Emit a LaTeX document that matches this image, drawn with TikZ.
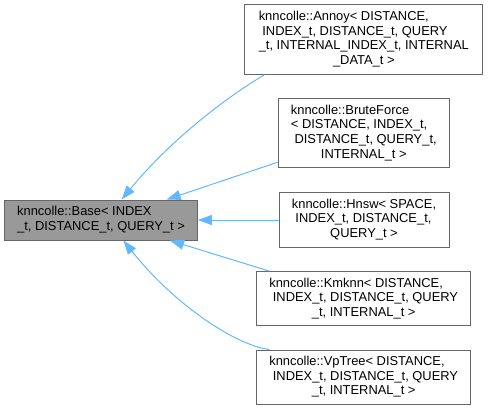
\documentclass[tikz,border=0pt]{standalone}
\usepackage{fontspec}
\setmainfont{Liberation Sans}
\usetikzlibrary{arrows.meta}
\definecolor{edgeblue}{HTML}{63B8FF}
\definecolor{boxline}{HTML}{666666}
\definecolor{basefill}{HTML}{999999}
\begin{document}
\begin{tikzpicture}[x=1pt,y=-1pt,
  cls/.style={draw=boxline, line width=1pt, rectangle, inner sep=0pt,
    font=\fontsize{12.9}{14.7}\selectfont, align=left},
  basecls/.style={cls, fill=basefill},
  inh/.style={draw=edgeblue, line width=1pt, {Triangle[length=14pt,width=10pt]}-}
]
\useasboundingbox (0,0) rectangle (488,410);

\node[basecls, minimum width=192.6pt, minimum height=40pt] (base) at (101,220)
  {\begin{tabular}{@{}l@{}}knncolle::Base< INDEX\\\multicolumn{1}{@{}c@{}}{\_t, DISTANCE\_t, QUERY\_t >}\end{tabular}};

\node[cls, minimum width=237.7pt, minimum height=69.3pt] (annoy) at (363.8,39.6)
  {\begin{tabular}{@{}l@{}}knncolle::Annoy< DISTANCE,\\\ INDEX\_t, DISTANCE\_t, QUERY\\\_t, INTERNAL\_INDEX\_t, INTERNAL\\\multicolumn{1}{@{}c@{}}{\_DATA\_t >}\end{tabular}};

\node[cls, minimum width=171pt, minimum height=69pt] (brute) at (363.8,133.2)
  {\begin{tabular}{@{}l@{}}knncolle::BruteForce\\< DISTANCE, INDEX\_t,\\\ DISTANCE\_t, QUERY\_t,\\\multicolumn{1}{@{}c@{}}{INTERNAL\_t >}\end{tabular}};

\node[cls, minimum width=170pt, minimum height=54.6pt] (hnsw) at (364,220)
  {\begin{tabular}{@{}l@{}}knncolle::Hnsw< SPACE,\\\ INDEX\_t, DISTANCE\_t,\\\multicolumn{1}{@{}c@{}}{QUERY\_t >}\end{tabular}};

\node[cls, minimum width=214pt, minimum height=54.3pt] (kmknn) at (363.7,298.8)
  {\begin{tabular}{@{}l@{}}knncolle::Kmknn< DISTANCE,\\\ INDEX\_t, DISTANCE\_t, QUERY\\\multicolumn{1}{@{}c@{}}{\_t, INTERNAL\_t >}\end{tabular}};

\node[cls, minimum width=214pt, minimum height=54.3pt] (vptree) at (363.7,377.2)
  {\begin{tabular}{@{}l@{}}knncolle::VpTree< DISTANCE,\\\ INDEX\_t, DISTANCE\_t, QUERY\\\multicolumn{1}{@{}c@{}}{\_t, INTERNAL\_t >}\end{tabular}};

\draw[inh] ([xshift=20.7pt]base.north) .. controls (172,138) and (230,95) .. ([xshift=20pt]annoy.south west);
\draw[inh] ([xshift=65.7pt]base.north) -- ([yshift=6pt]brute.south west);
\draw[inh] (base.east) -- (hnsw.west);
\draw[inh] ([xshift=69pt]base.south) -- ([xshift=13.3pt]kmknn.north west);
\draw[inh] ([xshift=22.3pt]base.south) .. controls (175,305) and (235,345) .. ([xshift=13.3pt]vptree.north west);
\end{tikzpicture}
\end{document}
